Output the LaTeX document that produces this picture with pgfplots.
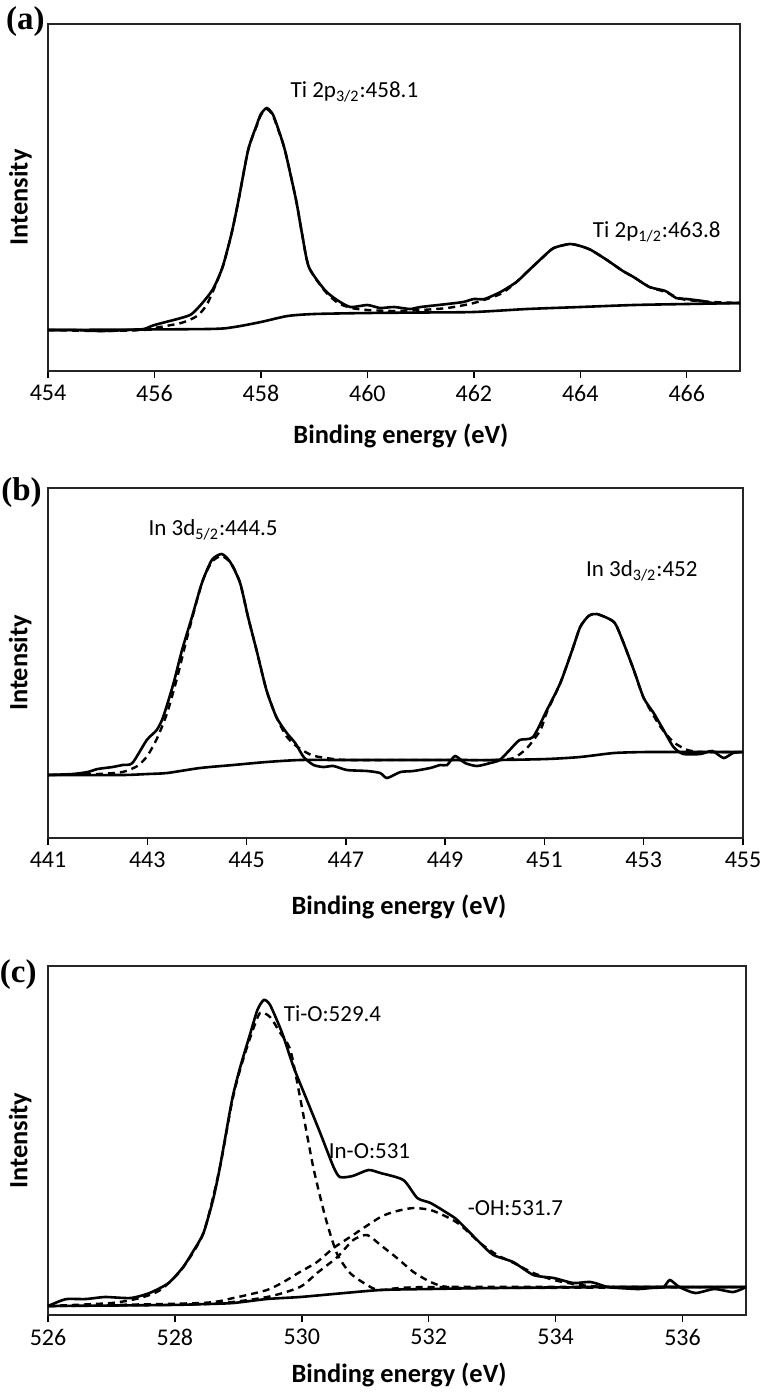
\documentclass[border=0pt]{standalone}
\usepackage{fontspec}
\setmainfont{Carlito}
\newfontfamily\tnr{Liberation Serif}
\usepackage{pgfplots}
\pgfplotsset{compat=1.18}

% one pixel of the reference = 0.5pt; y values are pixels above the axis bottom
\pgfplotsset{
  xps/.style={scale only axis, ymin=0, ytick=\empty,
    xtick pos=left, tick align=outside, major tick length=3.5pt,
    tick style={black, line width=0.7pt},
    axis line style={black!85, line width=0.7pt},
    tick label style={/pgf/number format/assume math mode=true, font=\fontsize{12}{14}\selectfont},
    label style={font=\bfseries\fontsize{13.2}{15}\selectfont},
    ylabel style={anchor=center},
    xlabel style={anchor=center},
    ylabel={Intensity}, xlabel={Binding energy (eV)}},
}
\tikzset{
  dat/.style={black, line width=1.3pt, smooth, tension=0.4},
  fit/.style={black, line width=1.2pt, dash pattern=on 3.5pt off 2.5pt, smooth, tension=0.4},
  ann/.style={anchor=west, inner sep=0pt, font=\fontsize{11.5}{13}\selectfont},
  lett/.style={anchor=east, inner sep=0pt, font=\tnr\bfseries\fontsize{16.5}{18}\selectfont},
}

\begin{document}
\begin{tikzpicture}
\path[use as bounding box] (0,0) rectangle (381.5pt,-696.5pt);

% ---------------- (a) Ti 2p
\begin{axis}[xps, at={(24pt,-12pt)}, anchor=north west, width=346pt, height=173.5pt,
  xmin=454, xmax=467, ymax=347, xtick={454,456,...,466},
  xlabel style={at={(axis description cs:0.51,-0.187)}},
  ylabel style={at={(axis description cs:-0.040,0.5)}}]
\addplot[dat] coordinates {(454,41) (457,42) (457.5,44) (458,49) (458.5,55) (459,57) (460,58) (461,58.5) (462,59) (463,62) (464,64) (465,66) (466,67) (467,68)};
\addplot[fit] coordinates {(454,41) (455,40) (455.8,41) (456,43) (456.5,48) (456.8,55) (457,68) (457.28,104) (457.45,138) (457.58,171) (457.76,221) (457.92,245) (458.0,256) (458.11,262) (458.22,256) (458.3,245) (458.45,221) (458.66,171) (458.77,138) (458.9,104) (459.2,80) (459.45,68) (459.7,63) (460,61) (460.5,60) (461,61) (461.5,63) (462,68) (462.5,77) (462.8,89) (463,99) (463.3,114) (463.5,123) (463.8,127) (464,125) (464.2,121) (464.5,111) (464.8,100) (465,94) (465.3,84) (465.6,79) (465.8,74) (466,71) (466.5,69) (467,68)};
\addplot[dat] coordinates {(454,41) (454.5,41) (455,40) (455.5,41) (455.8,42) (456,46) (456.5,53) (456.7,57) (456.9,68) (457.1,82) (457.28,104) (457.45,138) (457.58,171) (457.76,221) (457.92,246) (458.0,257) (458.11,263) (458.22,257) (458.3,246) (458.45,221) (458.66,171) (458.77,138) (458.9,104) (459.2,81) (459.43,71) (459.68,64) (460,66) (460.24,63) (460.5,64) (460.8,62) (461,64) (461.5,67) (461.8,69) (462,72) (462.2,72) (462.5,79) (462.8,89) (463,99) (463.3,114) (463.5,123) (463.8,127) (464,125) (464.2,121) (464.5,111) (464.8,100) (465,94) (465.3,84) (465.6,80) (465.8,73) (466,72) (466.3,70) (466.5,68) (467,68)};
\node[ann] at (axis cs:458.55,279) {Ti 2p\textsubscript{3/2}:458.1};
\node[ann] at (axis cs:464.23,139) {Ti 2p\textsubscript{1/2}:463.8};
\end{axis}

% ---------------- (b) In 3d
\begin{axis}[xps, at={(24pt,-244pt)}, anchor=north west, width=347.5pt, height=175pt,
  xmin=441, xmax=455, ymax=350, xtick={441,443,...,455},
  xlabel style={at={(axis description cs:0.505,-0.197)}},
  ylabel style={at={(axis description cs:-0.040,0.5)}}]
\addplot[dat] coordinates {(441,63) (442.5,63) (443,64) (443.4,65) (444.06,70) (444.73,73) (445.4,76) (446.08,78) (447,78) (448,78) (449,78) (450.05,78) (451.05,79) (451.72,81) (452.4,85) (453.07,86) (454,86) (455,86)};
\addplot[fit] coordinates {(441,63) (442,64) (442.5,66) (442.8,72) (443,82) (443.2,100) (443.4,125) (443.6,160) (443.8,200) (444.1,255) (444.3,276) (444.5,282) (444.7,274) (444.87,255) (445.03,221) (445.2,188) (445.4,148) (445.6,121) (445.8,102) (446,92) (446.3,83) (446.6,80) (447,78) (448,78) (449,78) (450,78) (450.38,80) (450.65,90) (450.92,108) (451.05,126) (451.32,155) (451.56,188) (451.72,211) (451.89,222) (452.06,224) (452.4,216) (452.57,198) (452.8,168) (453,140) (453.34,111) (453.6,96) (453.88,88) (454.2,86) (455,86)};
\addplot[dat] coordinates {(441,63) (441.5,64) (441.8,66) (442,69) (442.3,71) (442.5,73) (442.7,75) (442.99,98) (443.19,108) (443.32,121) (443.53,155) (443.7,188) (443.9,221) (444.1,255) (444.3,278) (444.5,284) (444.67,276) (444.87,255) (445.03,221) (445.2,188) (445.4,148) (445.6,121) (445.81,105) (445.98,95) (446.15,81) (446.35,73) (446.55,71) (446.75,72) (447.02,68) (447.43,67) (447.69,65) (447.83,60) (448.1,66) (448.36,67) (448.7,70) (448.9,73) (449.04,73) (449.2,82) (449.4,75) (449.64,72) (449.91,75) (450.1,78) (450.3,88) (450.5,98) (450.77,101) (451.05,128) (451.32,155) (451.56,188) (451.72,211) (451.89,222) (452.06,224) (452.4,216) (452.57,198) (452.8,168) (453,140) (453.2,125) (453.4,108) (453.6,91) (453.8,84) (454.14,84) (454.38,87) (454.61,80) (454.8,85) (455,86)};
\node[ann] at (axis cs:443.02,308) {In 3d\textsubscript{5/2}:444.5};
\node[ann] at (axis cs:451.83,267) {In 3d\textsubscript{3/2}:452};
\end{axis}

% ---------------- (c) O 1s
\begin{axis}[xps, at={(24pt,-483pt)}, anchor=north west, width=349pt, height=174.5pt,
  xmin=526, xmax=537, ymax=349, xtick={526,528,...,536},
  xlabel style={at={(axis description cs:0.503,-0.172)}},
  ylabel style={at={(axis description cs:-0.040,0.5)}}]
\addplot[dat] coordinates {(526,9) (527.87,10) (528.5,11) (528.92,12) (529.45,16) (529.97,18) (530.5,21) (531.24,25) (532,26) (533,27) (535,28) (537,28)};
\addplot[fit] coordinates {(526,9) (527,12) (527.45,17) (527.77,25) (528.1,45) (528.45,82) (528.71,148) (528.9,213) (529.03,246) (529.19,278) (529.34,302) (529.5,298) (529.65,283) (529.82,265) (529.98,215) (530.18,148) (530.37,98) (530.55,62) (530.76,42) (531.03,30) (531.24,25) (532,28) (537,28)};
\addplot[fit] coordinates {(526,9) (528.5,11) (529.45,18) (529.97,28) (530.24,42) (530.56,58) (530.81,75) (531.03,80) (531.24,70) (531.5,57) (531.76,43) (532.03,33) (532.29,28) (533,27) (537,28)};
\addplot[fit] coordinates {(526,9) (528.4,12) (528.92,17) (529.45,25) (529.71,33) (529.97,43) (530.24,53) (530.5,67) (530.76,78) (531.24,98) (531.5,104) (531.76,107) (532.03,105) (532.29,98) (532.5,90) (532.81,72) (533.08,60) (533.34,52) (533.65,42) (533.97,35) (534.39,30) (534.91,28) (537,28)};
\addplot[dat] coordinates {(526,9) (526.15,13) (526.3,16) (526.6,16) (526.9,18) (527.3,17) (527.6,22) (527.9,32) (528.13,48) (528.3,65) (528.45,82) (528.6,115) (528.71,148) (528.9,215) (529.03,248) (529.19,282) (529.3,305) (529.4,315) (529.5,310) (529.69,282) (529.87,248) (530.08,215) (530.29,182) (530.5,148) (530.6,138) (530.8,139) (531.05,145) (531.24,142) (531.6,135) (531.82,117) (532.03,112) (532.29,102) (532.45,95) (532.81,72) (533.02,60) (533.33,53) (533.65,40) (533.97,37) (534.28,32) (534.55,33) (534.82,28) (535,27) (535.3,26) (535.5,27) (535.7,28) (535.8,35) (535.95,28) (536.2,22) (536.5,26) (536.8,23) (537,28)};
\node[ann] at (axis cs:529.71,301) {Ti-O:529.4};
\node[ann] at (axis cs:530.42,164) {In-O:531};
\node[ann] at (axis cs:532.61,107) {-OH:531.7};
\end{axis}

% panel letters
\node[lett] at (22.5pt,-11pt) {(a)};
\node[lett] at (21pt,-246.5pt) {(b)};
\node[lett] at (18.5pt,-487.5pt) {(c)};
\end{tikzpicture}
\end{document}
